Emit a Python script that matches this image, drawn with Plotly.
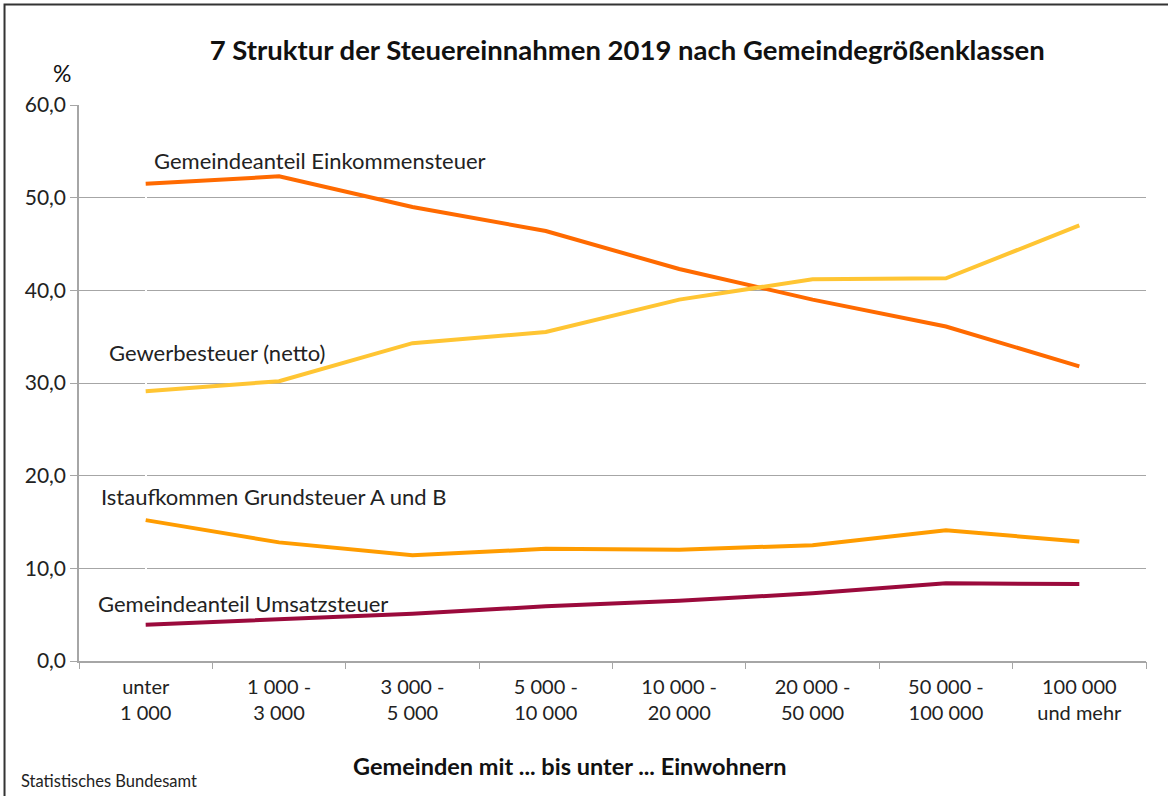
import plotly.graph_objects as go

# Gemeindegrößenklassen (Einwohner)
klassen = ["unter<br>1 000", "1 000 -<br>3 000", "3 000 -<br>5 000", "5 000 -<br>10 000",
           "10 000 -<br>20 000", "20 000 -<br>50 000", "50 000 -<br>100 000", "100 000<br>und mehr"]

# Anteile an den Steuereinnahmen in %
einkommensteuer = [51.5, 52.3, 49.0, 46.4, 42.3, 39.0, 36.1, 31.8]
gewerbesteuer = [29.1, 30.2, 34.3, 35.5, 39.0, 41.2, 41.3, 47.0]
grundsteuer = [15.2, 12.8, 11.4, 12.1, 12.0, 12.5, 14.1, 12.9]
umsatzsteuer = [3.9, 4.5, 5.1, 5.9, 6.5, 7.3, 8.4, 8.3]

serien = [
    ("Gemeindeanteil Einkommensteuer", einkommensteuer, "#ff6a00"),
    ("Gewerbesteuer (netto)", gewerbesteuer, "#ffc533"),
    ("Istaufkommen Grundsteuer A und B", grundsteuer, "#ff9c00"),
    ("Gemeindeanteil Umsatzsteuer", umsatzsteuer, "#9b0a3c"),
]

FONT = "Lato, 'Open Sans', sans-serif"
x_idx = list(range(len(klassen)))

fig = go.Figure()
for name, werte, farbe in serien:
    fig.add_trace(go.Scatter(
        x=x_idx, y=werte, mode="lines", name=name,
        line=dict(color=farbe, width=4),
        hovertemplate="%{y:.1f} %<extra>" + name + "</extra>",
    ))

# Beschriftungen direkt an den Linien
labels = [
    ("Gemeindeanteil Einkommensteuer", 0.05, 54.0),
    ("Gewerbesteuer (netto)", -0.29, 33.3),
    ("Istaufkommen Grundsteuer A und B", -0.35, 17.8),
    ("Gemeindeanteil Umsatzsteuer", -0.37, 6.2),
]
for text, lx, ly in labels:
    fig.add_annotation(x=lx, y=ly, text=text, showarrow=False, xanchor="left",
                       yanchor="middle", font=dict(size=22, color="#222222", family=FONT))

fig.add_annotation(x=-0.016, y=1.058, xref="paper", yref="paper", text="%", showarrow=False,
                   xanchor="center", yanchor="middle", font=dict(size=23, color="#111111", family=FONT))
fig.add_annotation(x=-0.056, y=-0.215, xref="paper", yref="paper", text="Statistisches Bundesamt",
                   showarrow=False, xanchor="left", yanchor="middle",
                   font=dict(size=16.5, color="#222222", family=FONT))
# Achsentitel (leicht links der Mitte wie im Original)
fig.add_annotation(x=0.46, y=-0.189, xref="paper", yref="paper",
                   text="<b>Gemeinden mit ... bis unter ... Einwohnern</b>",
                   showarrow=False, xanchor="center", yanchor="middle",
                   font=dict(size=23.5, color="#111111", family=FONT))

# Rahmen
fig.add_shape(type="rect", xref="paper", yref="paper", x0=-0.0698, x1=1.2, y0=-0.5, y1=1.1808,
              line=dict(color="#333333", width=2))

fig.update_layout(
    title=dict(text="<b>7 Struktur der Steuereinnahmen 2019 nach Gemeindegrößenklassen</b>",
               x=0.537, xanchor="center", y=0.937, yanchor="middle",
               font=dict(size=27.5, color="#111111", family=FONT)),
    width=1168, height=796,
    margin=dict(l=79, r=22, t=105, b=135),
    paper_bgcolor="white", plot_bgcolor="white",
    showlegend=False,
    font=dict(family=FONT, size=21, color="#222222"),
    xaxis=dict(
        tickmode="array", tickvals=x_idx, ticktext=klassen,
        range=[-0.5, len(klassen) - 0.5],
        showgrid=False, showline=True, linecolor="#a6a6a6", linewidth=1.5,
        ticks="", zeroline=False, ticklabelstandoff=7,
        tickfont=dict(size=20, color="#222222"),
    ),
    yaxis=dict(
        range=[0, 60], dtick=10, tickformat=".1f",
        showgrid=True, gridcolor="#a6a6a6", gridwidth=1.2,
        showline=True, linecolor="#a6a6a6", linewidth=1.5,
        ticks="outside", ticklen=7, tickcolor="#a6a6a6",
        zeroline=False, tickfont=dict(size=21, color="#222222"),
    ),
    separators=", ",
)

# Teilstriche an den Klassengrenzen
fig.update_layout(xaxis2=dict(overlaying="x", range=[-0.5, len(klassen) - 0.5], tickmode="array",
                              tickvals=[i - 0.5 for i in range(len(klassen) + 1)], ticktext=[""] * (len(klassen) + 1),
                              ticks="outside", ticklen=7, tickcolor="#a6a6a6", showgrid=False,
                              side="bottom", anchor="y", showline=False))
fig.add_trace(go.Scatter(x=[None], y=[None], xaxis="x2", showlegend=False, hoverinfo="skip"))

fig.write_html("out.html", config={"displayModeBar": False},
               post_script="document.body.style.margin='0';")
